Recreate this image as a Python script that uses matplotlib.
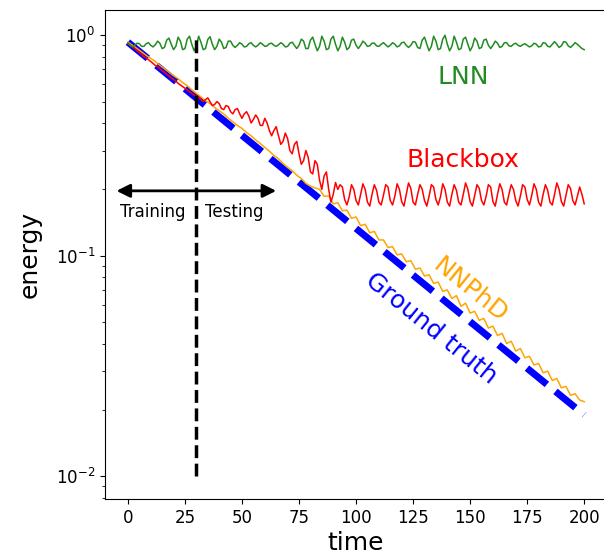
import matplotlib
matplotlib.use('Agg')
import matplotlib.pyplot as plt
import numpy as np

# time samples: every step for LNN / Blackbox, every 2 steps for NNPhD
t = np.arange(0, 201)
t2 = np.arange(0, 201, 2)

# ground truth decays as a straight line on the log axis
gt_t = [0, 200]
gt_e = [0.93, 0.019]

lnn = [0.92, 0.90, 0.885, 0.90, 0.92, 0.915, 0.89, 0.89, 0.915, 0.925, 0.90, 0.885, 0.905,
       0.94, 0.92, 0.87, 0.88, 0.95, 0.97, 0.91, 0.86, 0.89, 0.98, 0.94, 0.86, 0.87, 0.96, 0.99,
       0.91, 0.85, 0.89, 0.99, 0.93, 0.86, 0.87, 0.955, 0.985, 0.91, 0.86, 0.89, 0.96, 0.93, 0.87,
       0.88, 0.94, 0.94, 0.90,
       0.88, 0.90, 0.925, 0.91, 0.885, 0.89, 0.915, 0.925, 0.90, 0.885, 0.90, 0.925, 0.91, 0.89,
       0.895, 0.915, 0.92, 0.90, 0.89, 0.905, 0.925, 0.91, 0.885, 0.89, 0.92, 0.93, 0.90,
       0.87, 0.90, 0.96, 0.94, 0.87, 0.87, 0.95, 0.98, 0.91, 0.85, 0.89, 0.99, 0.94, 0.86, 0.87,
       0.96, 0.99, 0.91, 0.85, 0.89, 0.98, 0.93, 0.86, 0.88, 0.95, 0.96, 0.90, 0.87, 0.90, 0.94,
       0.92,
       0.89, 0.895, 0.92, 0.92, 0.895, 0.89, 0.91, 0.925, 0.905, 0.885, 0.90, 0.925, 0.91, 0.885,
       0.895, 0.925, 0.93, 0.90, 0.88, 0.90, 0.935, 0.93,
       0.88, 0.87, 0.95, 0.98, 0.91, 0.85, 0.89, 0.99, 0.94, 0.86, 0.87, 0.96, 1.0, 0.91, 0.85,
       0.89, 0.99, 0.93, 0.86, 0.87, 0.96, 0.98, 0.91, 0.85, 0.89, 0.97, 0.94, 0.87, 0.88, 0.95,
       0.96, 0.90, 0.87, 0.90, 0.94, 0.92, 0.88, 0.89, 0.925, 0.925, 0.895, 0.89,
       0.91, 0.92, 0.90, 0.89, 0.905, 0.915, 0.90, 0.885, 0.895, 0.92, 0.91, 0.885, 0.89, 0.925,
       0.92, 0.89, 0.885, 0.91, 0.935, 0.91, 0.88, 0.895, 0.935, 0.93, 0.895, 0.88, 0.90, 0.925,
       0.91, 0.89, 0.87, 0.86]

blackbox = [0.92, 0.90, 0.885, 0.87, 0.85, 0.835, 0.82, 0.80, 0.79, 0.775, 0.76, 0.745, 0.73,
            0.72, 0.705, 0.69, 0.68, 0.665, 0.655, 0.64, 0.63, 0.62, 0.605, 0.595, 0.585, 0.575,
            0.565, 0.555, 0.545, 0.535, 0.53,
            0.525, 0.51, 0.50, 0.51, 0.52, 0.50, 0.48, 0.485, 0.50, 0.49, 0.465, 0.46, 0.48, 0.475,
            0.45, 0.44, 0.46, 0.465, 0.44, 0.42, 0.44, 0.45, 0.43, 0.40, 0.415, 0.435, 0.42, 0.39,
            0.39, 0.42,
            0.40, 0.37, 0.35, 0.37, 0.385, 0.35, 0.32, 0.33, 0.36, 0.34, 0.30, 0.29, 0.32, 0.33,
            0.29, 0.26, 0.27, 0.30, 0.28, 0.24, 0.235, 0.27, 0.26, 0.22, 0.20, 0.23, 0.24, 0.20,
            0.175, 0.19, 0.215, 0.20,
            0.21, 0.205, 0.18, 0.17, 0.185, 0.21, 0.20, 0.178, 0.17,
            0.19, 0.212, 0.20, 0.175, 0.168, 0.19, 0.21, 0.198, 0.175,
            0.17, 0.188, 0.21, 0.205, 0.178, 0.17, 0.186, 0.212, 0.20,
            0.176, 0.168, 0.19, 0.214, 0.202, 0.175, 0.17, 0.19, 0.21,
            0.20, 0.178, 0.168, 0.186, 0.21, 0.205, 0.18, 0.17, 0.185,
            0.212, 0.20, 0.175, 0.168, 0.19, 0.21, 0.198, 0.175, 0.17,
            0.19, 0.214, 0.20, 0.176, 0.168, 0.188, 0.21, 0.202, 0.178,
            0.17, 0.186, 0.21, 0.205, 0.176, 0.168, 0.19, 0.212, 0.20,
            0.175, 0.17, 0.19, 0.21, 0.20, 0.178, 0.168, 0.186, 0.21,
            0.205, 0.18, 0.17, 0.188, 0.212, 0.20, 0.175, 0.168, 0.19,
            0.21, 0.198, 0.175, 0.17, 0.19, 0.214, 0.20, 0.176, 0.168,
            0.188, 0.21, 0.202, 0.178, 0.17, 0.186, 0.205, 0.19, 0.172]

nnphd = [0.93, 0.90, 0.87, 0.84, 0.81, 0.785, 0.76, 0.73, 0.705, 0.68,
         0.655, 0.635, 0.61, 0.59, 0.565, 0.545, 0.525, 0.505, 0.49, 0.47,
         0.455, 0.44, 0.42, 0.405, 0.39, 0.378, 0.362, 0.35, 0.335, 0.323,
         0.31, 0.298, 0.285, 0.275, 0.262, 0.252, 0.243, 0.232, 0.224, 0.213,
         0.207,
         0.203, 0.200, 0.186, 0.187, 0.172, 0.174, 0.160, 0.161, 0.148, 0.150,
         0.137, 0.139, 0.127, 0.129, 0.118, 0.118, 0.109, 0.110, 0.101, 0.102,
         0.094, 0.095, 0.087, 0.088, 0.081, 0.082, 0.075, 0.076, 0.069, 0.070,
         0.064, 0.066, 0.059, 0.061, 0.055, 0.056, 0.051, 0.052, 0.047, 0.048,
         0.0435, 0.0445, 0.040, 0.041, 0.037, 0.038, 0.0345, 0.035, 0.032, 0.0325,
         0.0295, 0.030, 0.0272, 0.0278, 0.0252, 0.0256, 0.0233, 0.0237, 0.0222, 0.0218]

split_t = 30

fig = plt.figure(figsize=(6.04, 5.6), dpi=100)
ax = fig.add_axes([0.174, 0.109, 0.831, 0.873])

ax.plot(gt_t, gt_e, color='blue', lw=5, ls='--')
ax.plot(t2, nnphd, color='orange', lw=1.1)
ax.plot(t, blackbox, color='red', lw=1.1)
ax.plot(t, lnn, color='forestgreen', lw=1.1)
ax.plot([split_t, split_t], [0.01, 1.0], color='black', lw=2.5, ls='--')

ax.set_yscale('log')
ax.set_xlim(-10, 210)
ax.set_ylim(0.0079, 1.3)
ax.set_xticks(np.arange(0, 201, 25))
ax.tick_params(labelsize=12)
ax.spines['right'].set_visible(False)

ax.annotate('', xy=(-5, 0.197), xytext=(65, 0.197),
            arrowprops=dict(arrowstyle='<|-|>', color='black', lw=2, mutation_scale=20,
                            shrinkA=0, shrinkB=0))
ax.text(11, 0.158, 'Training', fontsize=12, ha='center', va='center')
ax.text(46.5, 0.158, 'Testing', fontsize=12, ha='center', va='center')

ax.text(147, 0.645, 'LNN', color='forestgreen', fontsize=18, ha='center', va='center')
ax.text(147, 0.272, 'Blackbox', color='red', fontsize=18, ha='center', va='center')
ax.text(150, 0.070, 'NNPhD', color='orange', fontsize=18, ha='center', va='center', rotation=-39)
ax.text(133, 0.047, 'Ground truth', color='blue', fontsize=18, ha='center', va='center', rotation=-39)

ax.set_xlabel('time', fontsize=18, labelpad=3)
ax.set_ylabel('energy', fontsize=18, labelpad=10)

fig.savefig('out.png', dpi=100)
